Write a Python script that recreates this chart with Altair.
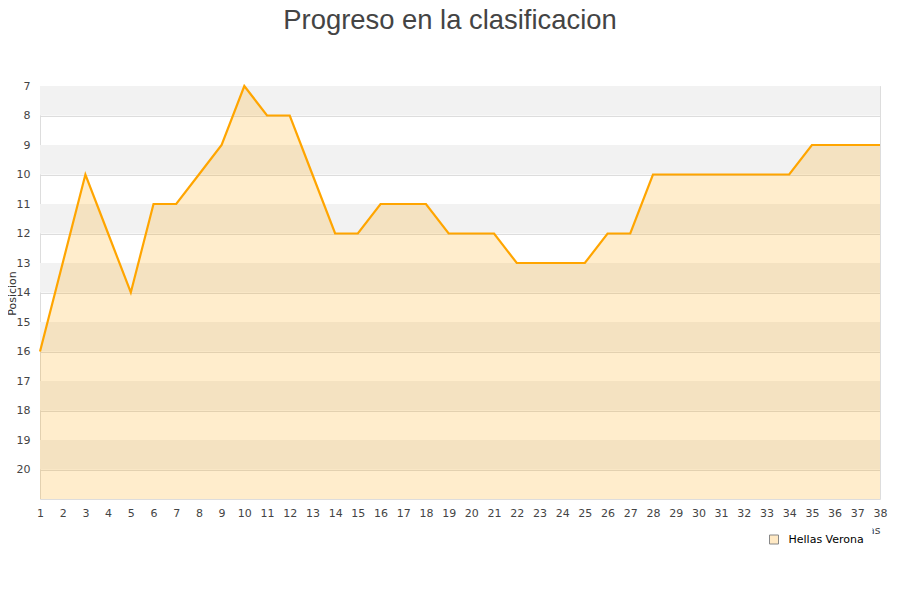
import altair as alt
import pandas as pd

jornadas = list(range(1, 39))
posiciones = [16, 13, 10, 12, 14, 11, 11, 10, 9, 7,
              8, 8, 10, 12, 12, 11, 11, 11, 12, 12,
              12, 13, 13, 13, 13, 12, 12, 10, 10, 10,
              10, 10, 10, 10, 9, 9, 9, 9]
equipo = "Hellas Verona"
band_starts = [7, 9, 11, 13, 15, 17, 19]
y_ticks = list(range(7, 21))
y_bottom = 21

df = pd.DataFrame({"jornada": jornadas, "pos": posiciones, "equipo": [equipo] * len(jornadas)})
bands = pd.DataFrame({"y0": band_starts, "y1": [b + 1 for b in band_starts]})

FONT = "DejaVu Sans"
W, H = 840, 413

yscale = alt.Scale(domain=[7, y_bottom], reverse=True, nice=False, zero=False)
xscale = alt.Scale(domain=[1, 38], nice=False, zero=False)

xaxis = alt.Axis(values=jornadas, grid=False, ticks=False, domain=False,
                 labelFont=FONT, labelFontSize=11, labelColor="#444",
                 labelPadding=8, labelFlush=False, labelOverlap=False,
                 title="Jornadas", titleFont=FONT, titleFontSize=11,
                 titleFontWeight="normal", titleColor="#444",
                 titleAnchor="end", titlePadding=6)
yaxis = alt.Axis(values=y_ticks, grid=True, gridColor="#dddddd",
                 gridWidth=1, ticks=False, domain=False,
                 labelFont=FONT, labelFontSize=11, labelColor="#444",
                 labelPadding=10, labelOverlap=False, title="Posicion", titleFont=FONT,
                 titleFontSize=11, titleFontWeight="normal",
                 titleColor="#333", titleX=-25, titleY=207,
                 titleBaseline="alphabetic", titleAngle=270)

band_layer = alt.Chart(bands).mark_rect(color="#f2f2f2").encode(
    x=alt.value(0),
    x2=alt.value("width"),
    y=alt.Y("y0:Q", scale=yscale, axis=yaxis, title="Posicion"),
    y2="y1:Q",
)

area_layer = alt.Chart(df).mark_area(color="#ffa500", fillOpacity=0.2, interpolate="linear").encode(
    x=alt.X("jornada:Q", scale=xscale, axis=xaxis, title="Jornadas"),
    y=alt.Y("pos:Q", scale=yscale, axis=yaxis, title="Posicion"),
    y2=alt.Y2(datum=y_bottom),
)

line_layer = alt.Chart(df).mark_line(color="#ffa500", strokeWidth=2.2, interpolate="linear").encode(
    x=alt.X("jornada:Q", scale=xscale, axis=xaxis, title="Jornadas"),
    y=alt.Y("pos:Q", scale=yscale, axis=yaxis, title="Posicion"),
)

legend_layer = alt.Chart(df).mark_point(shape="square", filled=True, opacity=0).encode(
    x=alt.X("jornada:Q", scale=xscale, axis=xaxis, title="Jornadas"),
    y=alt.Y("pos:Q", scale=yscale, axis=yaxis, title="Posicion"),
    fill=alt.Fill("equipo:N",
                  scale=alt.Scale(domain=[equipo], range=["#ffe9c4"]),
                  legend=alt.Legend(title=None, orient="none", legendX=720.5, legendY=440,
                                    symbolType="square", symbolSize=81,
                                    symbolStrokeColor="#888888", symbolStrokeWidth=1,
                                    symbolOpacity=1, labelFont=FONT, labelFontSize=11,
                                    labelColor="#000", labelOffset=9,
                                    fillColor="white", padding=8)),
)

chart = alt.layer(band_layer, area_layer, line_layer, legend_layer).properties(
    width=W, height=H,
    title=alt.TitleParams("Progreso en la clasificacion", font="Liberation Sans",
                          fontSize=27.4, fontWeight="normal", color="#444",
                          anchor="middle", offset=46, dx=-10),
    autosize=alt.AutoSizeParams(type="none"),
    padding={"left": 32, "top": 78, "right": 12, "bottom": 60},
).configure_view(stroke="#dddddd", strokeWidth=1).configure(background="white")

chart.save("out.html", embed_options={"renderer": "svg", "actions": False})
